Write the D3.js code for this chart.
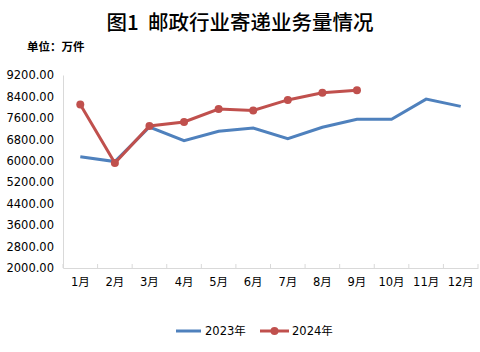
<!DOCTYPE html>
<html>
<head>
<meta charset="utf-8">
<script src="https://cdn.jsdelivr.net/npm/d3@7"></script>
<style>
  body { margin: 0; background: #fff; }
  text { font-family: "DejaVu Sans", "Noto Sans CJK SC", sans-serif; }
</style>
</head>
<body>
<div id="chart"></div>
<script>
var months = ['1月', '2月', '3月', '4月', '5月', '6月', '7月', '8月', '9月', '10月', '11月', '12月'];
var yTicks = [2000, 2800, 3600, 4400, 5200, 6000, 6800, 7600, 8400, 9200];
var values2023 = [6150, 5970, 7260, 6750, 7100, 7220, 6820, 7250, 7550, 7550, 8300, 8030];
var values2024 = [8100, 5920, 7300, 7450, 7930, 7880, 8270, 8540, 8630];

var width = 480, height = 352;

var svg = d3.select('#chart')
  .append('svg')
  .attr('width', width)
  .attr('height', height);

var xScale = d3.scaleBand()
  .domain(months)
  .range([63, 478]);

var yScale = d3.scaleLinear()
  .domain([2000, 9200])
  .range([268, 75]);

// Title
svg.append('text')
  .attr('x', 240)
  .attr('y', 30)
  .attr('text-anchor', 'middle')
  .style('font-family', '"Noto Sans CJK SC", sans-serif')
  .style('font-size', '20.5px')
  .style('font-weight', 500)
  .style('white-space', 'pre')
  .text('图1  邮政行业寄递业务量情况');

svg.append('text')
  .attr('x', 27)
  .attr('y', 51)
  .style('font-family', '"Noto Sans CJK SC", sans-serif')
  .style('font-size', '11.5px')
  .style('font-weight', 700)
  .text('单位：万件');

// Y axis
var yAxis = svg.append('g')
  .attr('transform', 'translate(63,0)')
  .call(d3.axisLeft(yScale).tickValues(yTicks).tickSize(0).tickPadding(9)
    .tickFormat(d3.format('.2f')));
yAxis.select('.domain').attr('stroke', '#d9d9d9');
yAxis.selectAll('text').style('font-size', '11.5px').attr('fill', '#000');

// X axis
var xAxis = svg.append('g')
  .attr('transform', 'translate(0,268)')
  .call(d3.axisBottom(xScale).tickSize(0).tickPadding(10));
xAxis.select('.domain').attr('stroke', '#d9d9d9');
xAxis.selectAll('text').style('font-size', '11.5px').attr('fill', '#000');

// x tick marks between categories
svg.append('g')
  .selectAll('line')
  .data(months.concat(['end']))
  .join('line')
  .attr('x1', (d, i) => 63 + i * xScale.step())
  .attr('x2', (d, i) => 63 + i * xScale.step())
  .attr('y1', 264)
  .attr('y2', 268)
  .attr('stroke', '#d9d9d9');

var line = d3.line()
  .x((d, i) => xScale(months[i]) + xScale.bandwidth() / 2)
  .y(d => yScale(d));

svg.append('path')
  .datum(values2023)
  .attr('d', line)
  .attr('fill', 'none')
  .attr('stroke', '#4f81bd')
  .attr('stroke-width', 3);

svg.append('path')
  .datum(values2024)
  .attr('d', line)
  .attr('fill', 'none')
  .attr('stroke', '#c0504d')
  .attr('stroke-width', 3);

svg.append('g')
  .selectAll('circle')
  .data(values2024)
  .join('circle')
  .attr('cx', (d, i) => xScale(months[i]) + xScale.bandwidth() / 2)
  .attr('cy', d => yScale(d))
  .attr('r', 4)
  .attr('fill', '#c0504d');

// Legend
var legend = svg.append('g');
legend.append('line')
  .attr('x1', 176).attr('x2', 201)
  .attr('y1', 331).attr('y2', 331)
  .attr('stroke', '#4f81bd').attr('stroke-width', 3);
legend.append('text')
  .attr('x', 205).attr('y', 335)
  .style('font-size', '11.5px')
  .text('2023年');
legend.append('line')
  .attr('x1', 260).attr('x2', 289)
  .attr('y1', 331).attr('y2', 331)
  .attr('stroke', '#c0504d').attr('stroke-width', 3);
legend.append('circle')
  .attr('cx', 274.5).attr('cy', 331).attr('r', 4)
  .attr('fill', '#c0504d');
legend.append('text')
  .attr('x', 292).attr('y', 335)
  .style('font-size', '11.5px')
  .text('2024年');
</script>
</body>
</html>
